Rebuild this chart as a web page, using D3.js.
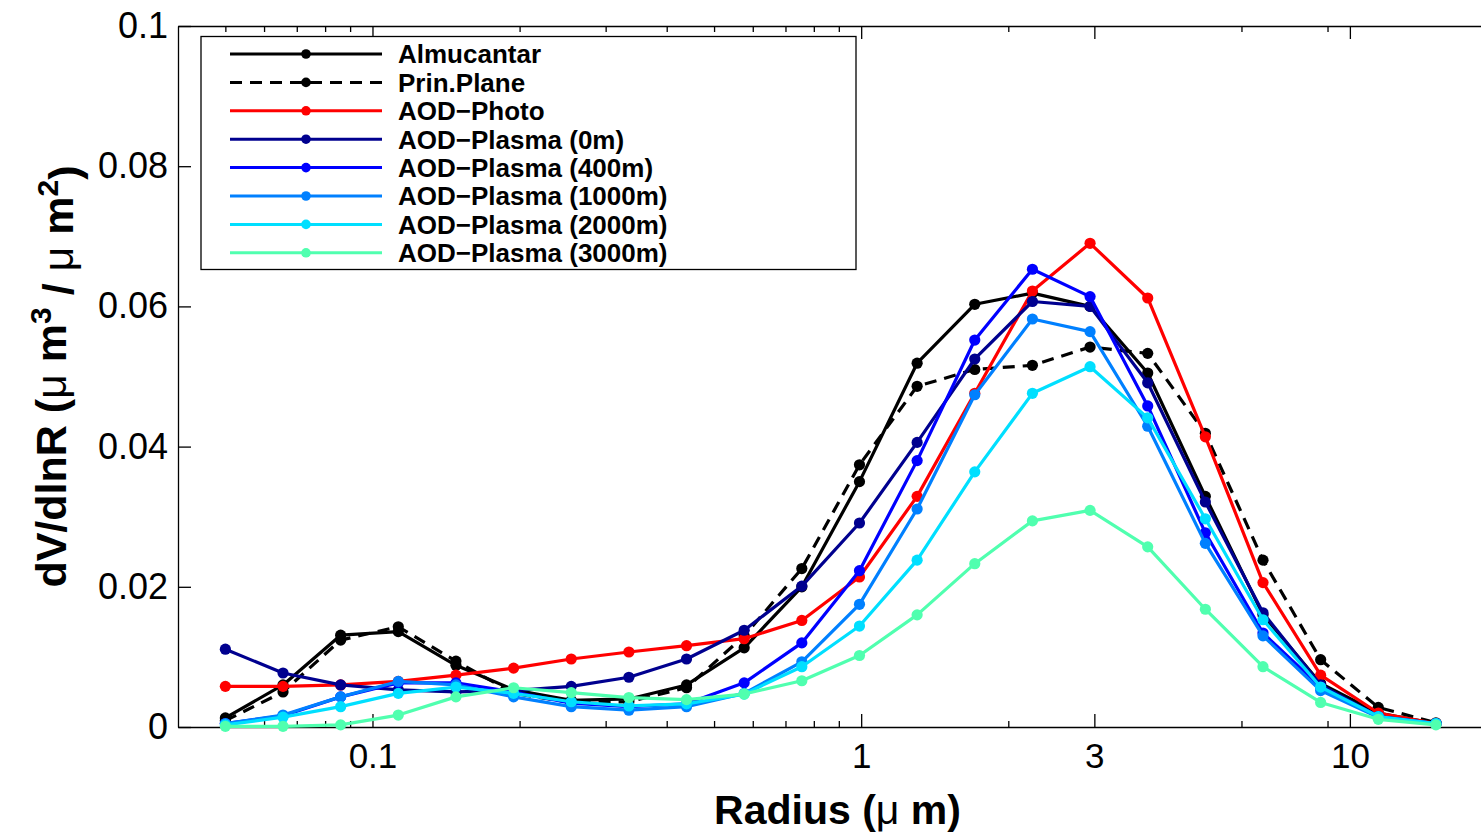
<!DOCTYPE html>
<html>
<head>
<meta charset="utf-8">
<script src="https://cdn.jsdelivr.net/npm/d3@7"></script>
<style>
  body { margin: 0; background: #fff; }
  svg text { font-family: "Liberation Sans", Arial, sans-serif; fill: #000; }
  .axis path, .axis line { stroke: #000; stroke-width: 1.3; }
</style>
</head>
<body>
<div id="chart"></div>
<script>
// size bins (um) and dV/dlnR values
const radius = [0.05, 0.065604, 0.086077, 0.112939, 0.148184, 0.194429, 0.255105, 0.334716, 0.439173, 0.576227, 0.756052,
  0.991996, 1.301571, 1.707757, 2.240702, 2.939966, 3.857452, 5.06126, 6.640745, 8.713145, 11.432287, 15.0];

const almucantar = [0.0013, 0.0060, 0.0131, 0.0136, 0.0088, 0.0053, 0.0038, 0.0040, 0.0060, 0.0113, 0.0200,
  0.0350, 0.0519, 0.0603, 0.0619, 0.0600, 0.0505, 0.0329, 0.0160, 0.0062, 0.0020, 0.0005];
const prinPlane = [0.0009, 0.0050, 0.0124, 0.0143, 0.0094, 0.0048, 0.0035, 0.0036, 0.0056, 0.0130, 0.0226,
  0.0374, 0.0486, 0.0510, 0.0516, 0.0542, 0.0533, 0.0419, 0.0238, 0.0096, 0.0028, 0.0006];
const aodPhoto = [0.0058, 0.0058, 0.0060, 0.0065, 0.0074, 0.0084, 0.0097, 0.0107, 0.0116, 0.0126, 0.0152,
  0.0214, 0.0329, 0.0476, 0.0622, 0.0690, 0.0612, 0.0414, 0.0206, 0.0074, 0.0020, 0.0005];
const plasma0 = [0.0111, 0.0077, 0.0060, 0.0053, 0.0050, 0.0052, 0.0058, 0.0071, 0.0097, 0.0138, 0.0201,
  0.0291, 0.0406, 0.0525, 0.0607, 0.0600, 0.0491, 0.0321, 0.0163, 0.0060, 0.0015, 0.0005];
const plasma400 = [0.0005, 0.0016, 0.0043, 0.0063, 0.0063, 0.0050, 0.0034, 0.0029, 0.0033, 0.0063, 0.0120,
  0.0223, 0.0380, 0.0552, 0.0653, 0.0614, 0.0458, 0.0277, 0.0134, 0.0057, 0.0015, 0.0005];
const plasma1000 = [0.0005, 0.0017, 0.0043, 0.0065, 0.0060, 0.0043, 0.0029, 0.0024, 0.0029, 0.0048, 0.0093,
  0.0175, 0.0311, 0.0474, 0.0582, 0.0564, 0.0429, 0.0262, 0.0130, 0.0052, 0.0014, 0.0005];
const plasma2000 = [0.0003, 0.0014, 0.0029, 0.0048, 0.0057, 0.0048, 0.0036, 0.0030, 0.0033, 0.0047, 0.0086,
  0.0144, 0.0238, 0.0364, 0.0476, 0.0514, 0.0441, 0.0297, 0.0153, 0.0057, 0.0015, 0.0005];
const plasma3000 = [0.0001, 0.0001, 0.0003, 0.0017, 0.0043, 0.0056, 0.0049, 0.0042, 0.0039, 0.0047, 0.0066,
  0.0102, 0.0160, 0.0233, 0.0294, 0.0309, 0.0257, 0.0168, 0.0086, 0.0035, 0.0011, 0.0003];

const seriesNames = ['Almucantar', 'Prin.Plane', 'AOD\u2212Photo', 'AOD\u2212Plasma (0m)', 'AOD\u2212Plasma (400m)',
  'AOD\u2212Plasma (1000m)', 'AOD\u2212Plasma (2000m)', 'AOD\u2212Plasma (3000m)'];
const seriesValues = [almucantar, prinPlane, aodPhoto, plasma0, plasma400, plasma1000, plasma2000, plasma3000];

const xMajorTicks = [0.1, 1, 3, 10];
const xMinorTicks = [0.05, 0.06, 0.07, 0.08, 0.09, 0.2, 0.3, 0.4, 0.5, 0.6, 0.7, 0.8, 0.9, 2, 6, 9];
const yTicks = [0, 0.02, 0.04, 0.06, 0.08, 0.1];

const colors = ['#000000', '#000000', '#ff0000', '#00008f', '#0000ff', '#0080ff', '#00dfff', '#50ffaf'];
const dashes = [null, '12,8', null, null, null, null, null, null];

const W = 1481, H = 837;
const margin = { top: 26, left: 178, bottom: 110 },
  plotRight = 1497; // axes run past the right edge of the picture

const svg = d3.select('#chart').append('svg')
  .attr('width', W).attr('height', H);

const x = d3.scaleLog().domain([0.04, 20]).range([margin.left, plotRight]);
const y = d3.scaleLinear().domain([0, 0.1]).range([H - margin.bottom, margin.top]);

// axes (MATLAB style: ticks pointing inwards, box on)
svg.append('g').attr('class', 'axis')
  .attr('transform', 'translate(0,' + y(0) + ')')
  .call(d3.axisBottom(x).tickValues(xMinorTicks).tickFormat('').tickSizeInner(-6).tickSizeOuter(0))
  .call(g => g.select('.domain').remove());
svg.append('g').attr('class', 'axis')
  .attr('transform', 'translate(0,' + y(0) + ')')
  .call(d3.axisBottom(x).tickValues(xMajorTicks).tickFormat(d3.format('~g')).tickSizeInner(-13).tickSizeOuter(0).tickPadding(16))
  .call(g => g.selectAll('text').style('font-size', '35px'));

svg.append('g').attr('class', 'axis')
  .attr('transform', 'translate(0,' + y(0.1) + ')')
  .call(d3.axisTop(x).tickValues(xMinorTicks).tickFormat('').tickSizeInner(-6).tickSizeOuter(0))
  .call(g => g.select('.domain').remove());
svg.append('g').attr('class', 'axis')
  .attr('transform', 'translate(0,' + y(0.1) + ')')
  .call(d3.axisTop(x).tickValues(xMajorTicks).tickFormat('').tickSizeInner(-13).tickSizeOuter(0));

svg.append('g').attr('class', 'axis')
  .attr('transform', 'translate(' + x(0.04) + ',0)')
  .call(d3.axisLeft(y).tickValues(yTicks).tickFormat(d => d === 0 ? '0' : d3.format('.2~f')(d)).tickSizeInner(-13).tickSizeOuter(0).tickPadding(10))
  .call(g => g.selectAll('text').style('font-size', '36px'));

// series
const line = d3.line().x((d, i) => x(radius[i])).y(d => y(d));

seriesValues.forEach(function(vals, s) {
  const g = svg.append('g').attr('class', 'series');
  g.append('path')
    .datum(vals)
    .attr('d', line)
    .attr('fill', 'none')
    .attr('stroke', colors[s])
    .attr('stroke-width', 3.2)
    .attr('stroke-linejoin', 'round')
    .attr('stroke-dasharray', dashes[s]);
  g.selectAll('circle').data(vals).enter().append('circle')
    .attr('cx', (d, i) => x(radius[i]))
    .attr('cy', d => y(d))
    .attr('r', 5.6)
    .attr('fill', colors[s]);
});

// legend
const legend = svg.append('g').attr('transform', 'translate(201,36.5)');
legend.append('rect')
  .attr('width', 655).attr('height', 233)
  .attr('fill', '#fff').attr('stroke', '#000').attr('stroke-width', 1.3);
seriesNames.forEach(function(name, s) {
  const ry = 17.5 + s * 28.4;
  legend.append('line')
    .attr('x1', 29).attr('x2', 181).attr('y1', ry).attr('y2', ry)
    .attr('stroke', colors[s]).attr('stroke-width', 3)
    .attr('stroke-dasharray', dashes[s]);
  legend.append('circle').attr('cx', 105).attr('cy', ry).attr('r', 4.8).attr('fill', colors[s]);
  legend.append('text')
    .attr('x', 197).attr('y', ry).attr('dy', '0.36em')
    .style('font-size', '26px').style('font-weight', 'bold')
    .text(name);
});

// axis labels
svg.append('text')
  .attr('x', (x(0.04) + plotRight) / 2).attr('y', 824)
  .attr('text-anchor', 'middle')
  .style('font-size', '41px').style('font-weight', 'bold')
  .call(t => {
    t.append('tspan').text('Radius (');
    t.append('tspan').style('font-weight', 'normal').text('\u03bc');
    t.append('tspan').text(' m)');
  });

const yl = svg.append('text')
  .attr('transform', 'translate(66,' + ((y(0) + y(0.1)) / 2) + ') rotate(-90)')
  .attr('text-anchor', 'middle')
  .style('font-size', '43px').style('font-weight', 'bold');
yl.append('tspan').text('dV/dlnR (');
yl.append('tspan').style('font-weight', 'normal').text('\u03bc');
yl.append('tspan').text(' m');
yl.append('tspan').attr('dy', '-0.5em').style('font-size', '30px').text('3');
yl.append('tspan').attr('dy', '0.5em').text(' / ');
yl.append('tspan').style('font-weight', 'normal').text('\u03bc');
yl.append('tspan').text(' m');
yl.append('tspan').attr('dy', '-0.5em').style('font-size', '30px').text('2');
yl.append('tspan').attr('dy', '0.5em').text(')');
</script>
</body>
</html>
